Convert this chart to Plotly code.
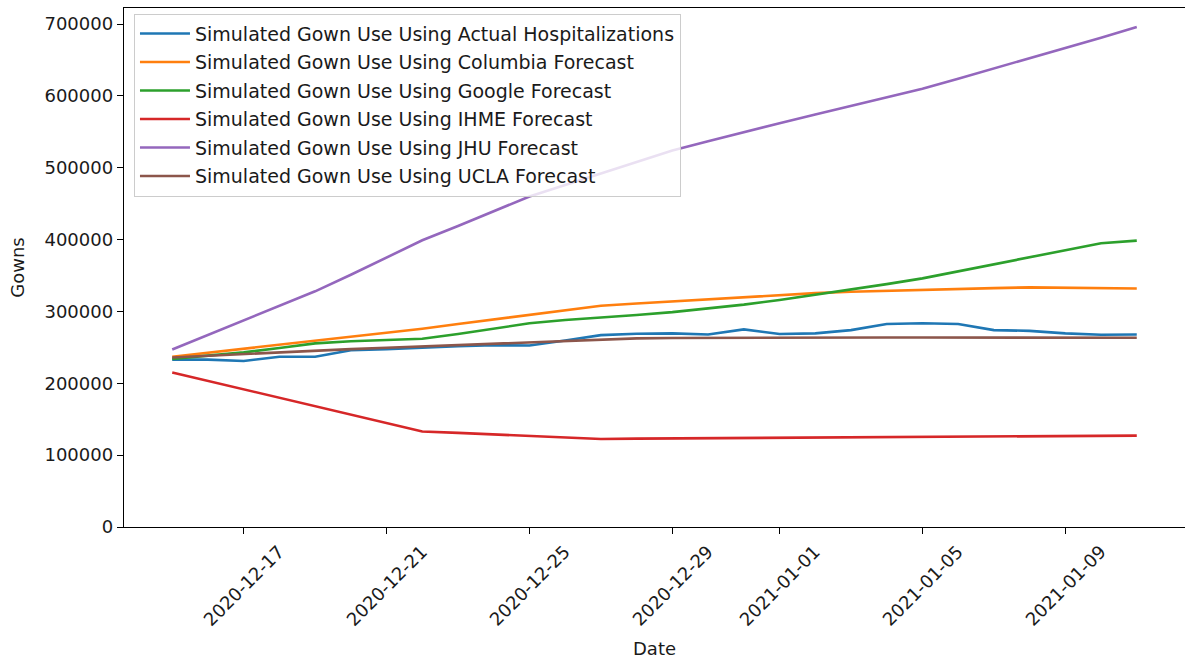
import pandas as pd
import plotly.graph_objects as go

# Simulated daily gown use, 2020-12-15 .. 2021-01-11
dates = pd.date_range("2020-12-15", periods=28, freq="D")

actual_k = [233, 233, 231, 237, 237, 246, 247.5, 250, 251.5, 253, 252.5, 259.5, 267, 269,
            269.5, 268, 275, 268.5, 269.5, 274, 282.5, 283.5, 282.5, 274, 273, 269.5, 267.5, 268]
columbia_k = [237, 242.5, 248, 254, 259.5, 265, 270.5, 276, 282.5, 289, 295.5, 302, 308, 311,
              314, 317, 320, 323, 325.5, 327.5, 329, 330.5, 331.5, 332.5, 333.5, 333, 332.5, 332]
google_k = [234, 238, 243, 249, 255.5, 258.5, 260, 262, 268.5, 276, 283.5, 288, 291, 295,
            299, 304, 309.5, 316, 323, 330, 338, 346, 356, 366, 376, 386, 395, 398.5]
ihme_k = [215, 203.3, 191.6, 179.9, 168.1, 156.4, 144.7, 133, 131, 129, 127.5, 125.5, 122.5, 123,
          123.3, 123.6, 123.9, 124.2, 124.5, 124.8, 125.1, 125.4, 125.7, 126, 126.3, 126.6, 126.9, 127.2]
jhu_k = [247, 267, 287, 307, 328, 351, 375, 399, 419, 440, 460, 476, 492, 508,
         524, 537, 550, 562, 574, 586, 598, 610, 624, 638, 652, 666, 681, 696]
ucla_k = [236, 238.5, 241, 243.5, 245.5, 247.5, 249.5, 251.5, 253.5, 255.5, 257.5, 259.5, 261.5, 262.5,
          263, 263.3, 263.5, 263.6, 263.7, 263.8, 263.8, 263.8, 263.8, 263.7, 263.6, 263.5, 263.4, 263.3]

series_names = [
    "Simulated Gown Use Using Actual Hospitalizations",
    "Simulated Gown Use Using Columbia Forecast",
    "Simulated Gown Use Using Google Forecast",
    "Simulated Gown Use Using IHME Forecast",
    "Simulated Gown Use Using JHU Forecast",
    "Simulated Gown Use Using UCLA Forecast",
]
series_values = [actual_k, columbia_k, google_k, ihme_k, jhu_k, ucla_k]
colors = ["#1f77b4", "#ff7f0e", "#2ca02c", "#d62728", "#9467bd", "#8c564b"]

tick_dates = ["2020-12-17", "2020-12-21", "2020-12-25", "2020-12-29",
              "2021-01-01", "2021-01-05", "2021-01-09"]
y_ticks = [0, 100000, 200000, 300000, 400000, 500000, 600000, 700000]

FONT = "DejaVu Sans"
TXT = "#1a1a1a"
TICK_SIZE = 18
LEGEND_SIZE = 19

fig = go.Figure()
for i, (name, vals, col) in enumerate(zip(series_names, series_values, colors)):
    fig.add_trace(go.Scatter(
        x=dates, y=[v * 1000 for v in vals], mode="lines", name=name,
        legendgroup=f"g{i}",
        line=dict(color=col, width=2.6),
    ))

# x range with a margin of ~5% of the data span on each side
span = dates[-1] - dates[0]
pad = span * 0.05
x0 = dates[0] - pad
x1 = dates[-1] + pad

# rotated date labels centred under each tick
for d in tick_dates:
    fig.add_annotation(
        x=d, y=-0.112, xref="x", yref="paper", text=d, showarrow=False,
        textangle=-45, xanchor="center", yanchor="middle",
        font=dict(family=FONT, size=TICK_SIZE, color=TXT),
    )

fig.update_layout(
    width=1185, height=659,
    margin=dict(l=124, r=0, t=8, b=132),
    paper_bgcolor="white", plot_bgcolor="white",
    font=dict(family=FONT, size=TICK_SIZE, color=TXT),
    showlegend=True,
    legend=dict(
        x=0.0094, y=0.989, xanchor="left", yanchor="top",
        bgcolor="rgba(255,255,255,0.8)", bordercolor="#cccccc", borderwidth=1,
        font=dict(family=FONT, size=LEGEND_SIZE, color=TXT),
        tracegroupgap=0.8, itemwidth=50,
    ),
)
fig.update_xaxes(
    type="date", range=[x0, x1],
    tickvals=tick_dates, showticklabels=False,
    ticks="outside", ticklen=6, tickwidth=1.4, tickcolor="black",
    showline=True, linecolor="black", linewidth=1.4, mirror=True,
    showgrid=False, zeroline=False,
    title=dict(text="Date", font=dict(family=FONT, size=TICK_SIZE, color=TXT), standoff=109),
)
fig.update_yaxes(
    range=[0, 722300], tickvals=y_ticks, tickformat="d",
    ticks="outside", ticklen=6, tickwidth=1.4, tickcolor="black",
    showline=True, linecolor="black", linewidth=1.4, mirror=False,
    showgrid=False, zeroline=False,
    tickfont=dict(family=FONT, size=TICK_SIZE, color=TXT),
    title=dict(text="Gowns", font=dict(family=FONT, size=TICK_SIZE, color=TXT)),
)

fig.write_html("out.html")
